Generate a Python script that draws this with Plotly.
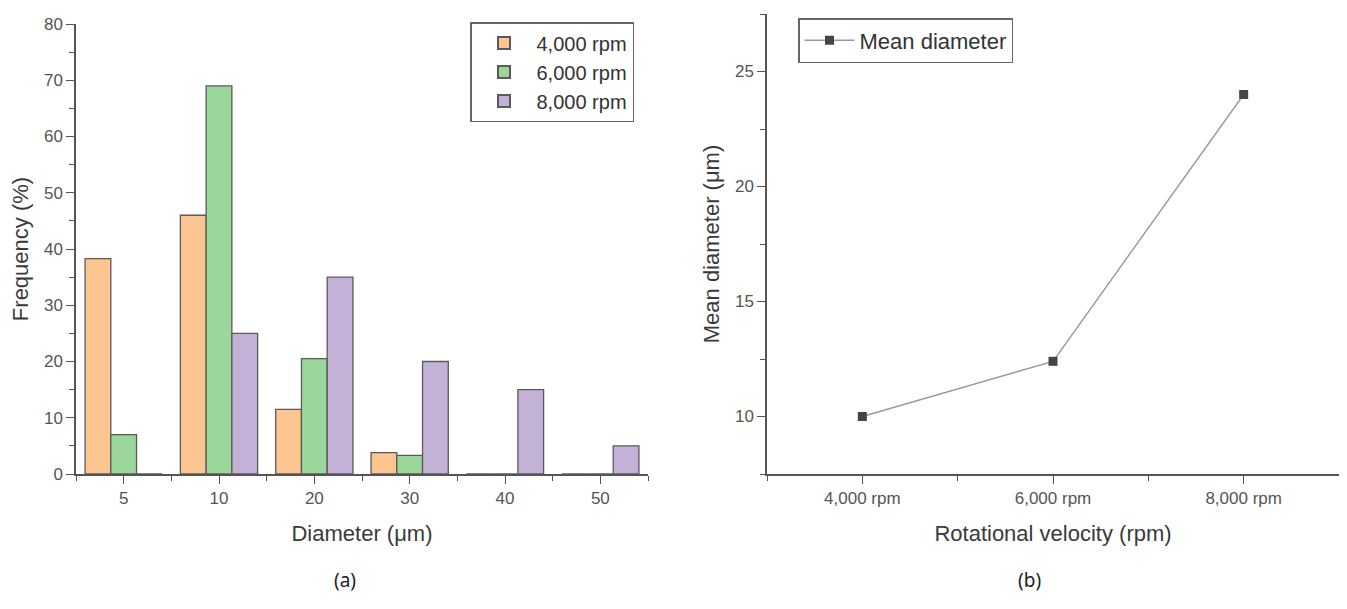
import plotly.graph_objects as go

# ---- data ----
diam_categories = ["5", "10", "20", "30", "40", "50"]
freq_4000 = [38.3, 46.0, 11.5, 3.8, 0, 0]
freq_6000 = [7.0, 69.0, 20.5, 3.3, 0, 0]
freq_8000 = [0, 25.0, 35.0, 20.0, 15.0, 5.0]
series_names = ["4,000 rpm", "6,000 rpm", "8,000 rpm"]

velocity = [4000, 6000, 8000]
velocity_labels = ["4,000 rpm", "6,000 rpm", "8,000 rpm"]
mean_diameter = [10.0, 12.4, 24.0]

# ---- page geometry (the html body adds an 8px margin) ----
OFF = 8
W, H = 1347 - 2 * OFF, 609 - 2 * OFF


def px_x(p):
    return min(1.0, max(0.0, (p - OFF) / W))


def px_y(p):
    return min(1.0, max(0.0, 1 - (p - OFF) / H))


# ---- styles ----
bar_colors = ["#FDC590", "#9BD69A", "#C3B1D8"]
edge = "#5a5a5a"
FONT = "Liberation Sans, Arial, sans-serif"
tick_font = dict(family=FONT, size=17, color="#555555")
title_font = dict(family=FONT, size=22, color="#3a3a3a")

fig = go.Figure()
xpos = list(range(len(diam_categories)))
for name, vals, col in zip(series_names, [freq_4000, freq_6000, freq_8000], bar_colors):
    fig.add_trace(go.Bar(
        x=xpos, y=vals, name=name, xaxis="x", yaxis="y",
        marker=dict(color=col, line=dict(color=edge, width=1.3)),
        legend="legend",
    ))

fig.add_trace(go.Scatter(
    x=velocity, y=mean_diameter, name="Mean diameter", xaxis="x2", yaxis="y2",
    mode="lines+markers",
    line=dict(color="#999999", width=1.4),
    marker=dict(symbol="square", size=9, color="#454545"),
    legend="legend2",
))

axis_common = dict(
    automargin=False,
    showgrid=False, zeroline=False, showline=True, linecolor="#555555", linewidth=1.5,
    ticks="outside", ticklen=8, tickcolor="#555555", tickwidth=1.3, tickfont=tick_font,
    title_font=title_font,
)
minor_common = dict(ticks="outside", ticklen=5, tickcolor="#555555", tickwidth=1.3)

fig.update_layout(
    template="none",
    width=W, height=H,
    margin=dict(l=0, r=0, t=0, b=0),
    paper_bgcolor="white", plot_bgcolor="white",
    barmode="group", bargap=0.19, bargroupgap=0,
    xaxis=dict(
        domain=[px_x(76), px_x(648)], anchor="y", range=[-0.5, 5.5],
        tickmode="array", tickvals=xpos, ticktext=diam_categories,
        minor=dict(tickmode="linear", tick0=-0.5, dtick=1, **minor_common),
        title=dict(text="Diameter (μm)", standoff=18),
        **axis_common,
    ),
    yaxis=dict(
        domain=[px_y(474), px_y(24)], anchor="x", range=[0, 80],
        dtick=10, tick0=0,
        minor=dict(dtick=5, **minor_common),
        title=dict(text="Frequency (%)", standoff=16),
        **axis_common,
    ),
    xaxis2=dict(
        domain=[px_x(767), px_x(1339)], anchor="y2", range=[3000, 9000],
        tickmode="array", tickvals=velocity, ticktext=velocity_labels,
        minor=dict(tickmode="linear", tick0=3000, dtick=1000, **minor_common),
        title=dict(text="Rotational velocity (rpm)", standoff=18),
        **axis_common,
    ),
    yaxis2=dict(
        domain=[px_y(474), px_y(14)], anchor="x2", range=[7.5, 27.5],
        tickmode="array", tickvals=[10, 15, 20, 25],
        minor=dict(tickmode="linear", tick0=7.5, dtick=2.5, **minor_common),
        title=dict(text="Mean diameter (μm)", standoff=9),
        **axis_common,
    ),
    legend=dict(
        x=px_x(470), y=px_y(22), xanchor="left", yanchor="top",
        bordercolor="#666666", borderwidth=1.5, bgcolor="white",
        font=dict(family=FONT, size=20, color="#333333"),
        tracegroupgap=0, itemsizing="constant", itemwidth=55,
    ),
    legend2=dict(
        x=px_x(798), y=px_y(18), xanchor="left", yanchor="top",
        bordercolor="#666666", borderwidth=1.5, bgcolor="white",
        font=dict(family=FONT, size=22, color="#333333"), itemwidth=50,
    ),
    annotations=[
        dict(text="(a)", x=px_x(345), y=px_y(580), xref="paper", yref="paper",
             xanchor="center", yanchor="middle", showarrow=False,
             font=dict(family="Noto Sans, sans-serif", size=19, color="#222222")),
        dict(text="(b)", x=px_x(1030), y=px_y(580), xref="paper", yref="paper",
             xanchor="center", yanchor="middle", showarrow=False,
             font=dict(family="Noto Sans, sans-serif", size=19, color="#222222")),
    ],
)

fig.write_html("out.html")
